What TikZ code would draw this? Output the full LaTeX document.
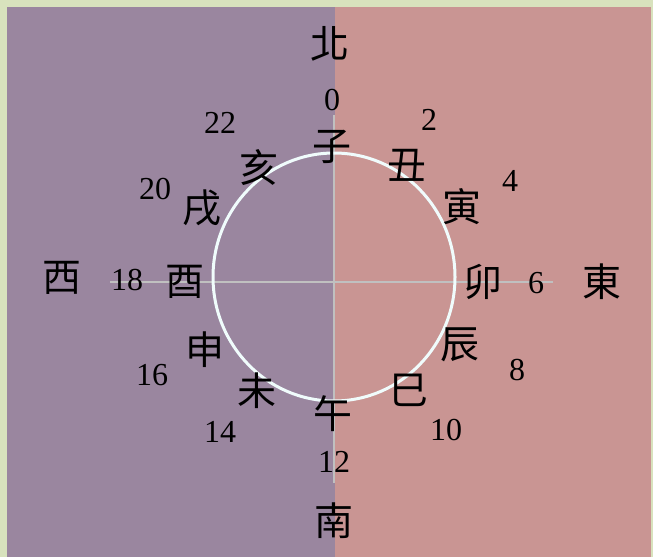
\documentclass[tikz,border=0pt]{standalone}
\usepackage{fontspec}
\newfontfamily\cjk{Noto Sans CJK TC}
\newfontfamily\digitfont{Liberation Serif}
\definecolor{bgGreen}{RGB}{216,226,189}
\definecolor{bgPurple}{RGB}{154,134,159}
\definecolor{bgPink}{RGB}{201,149,147}
\definecolor{axisGray}{RGB}{192,192,192}
\definecolor{ringWhite}{RGB}{240,252,252}
\begin{document}
\begin{tikzpicture}[x=1pt,y=-1pt,
  zhi/.style={inner sep=0pt,font=\cjk\fontsize{39}{41}\selectfont},
  fang/.style={inner sep=0pt,font=\cjk\fontsize{39}{41}\selectfont},
  num/.style={inner sep=0pt,font=\digitfont\fontsize{32}{34}\selectfont},
  axis/.style={draw=axisGray,line width=2pt},
  ring/.style={draw=ringWhite,line width=3pt}]
\useasboundingbox (0,0) rectangle (653,557);
\fill[bgGreen] (0,0) rectangle (653,557);
\fill[bgPurple] (7,7) rectangle (335,557);
\fill[bgPink] (335,7) rectangle (651,557);
% axes
\coordinate (vtop) at (334,115);
\coordinate (vbot) at (334,483);
\coordinate (hleft) at (110,282);
\coordinate (hright) at (553,282);
\coordinate (ctr) at (334,277);
\draw[axis] (vtop) -- (vbot);
\draw[axis] (hleft) -- (hright);
\draw[ring] (ctr) ellipse [x radius=121, y radius=124];
% directions
\node[fang] (north) at (330,44) {北};
\node[fang] (south) at (334,521) {南};
\node[fang] (west) at (62,278) {西};
\node[fang] (east) at (602,282) {東};
% branches
\node[zhi] (zi) at (332,147) {子};
\node[zhi] (chou) at (407,165) {丑};
\node[zhi] (yin) at (462,207) {寅};
\node[zhi] (mao) at (483,282) {卯};
\node[zhi] (chen) at (460,345) {辰};
\node[zhi] (si) at (409,390) {巳};
\node[zhi] (wu) at (333,414) {午};
\node[zhi] (wei) at (257,391) {未};
\node[zhi] (shen) at (205,350) {申};
\node[zhi] (you) at (185,282) {酉};
\node[zhi] (xu) at (202,208) {戌};
\node[zhi] (hai) at (259,168) {亥};
% hours
\node[num] (h0) at (332,100) {0};
\node[num] (h2) at (429,120) {2};
\node[num] (h4) at (510,181) {4};
\node[num] (h6) at (536,283) {6};
\node[num] (h8) at (517,370) {8};
\node[num] (h10) at (446,430) {10};
\node[num] (h12) at (334,462) {12};
\node[num] (h14) at (220,432) {14};
\node[num] (h16) at (152,375) {16};
\node[num] (h18) at (127,280) {18};
\node[num] (h20) at (155,189) {20};
\node[num] (h22) at (220,123) {22};
\end{tikzpicture}
\end{document}
